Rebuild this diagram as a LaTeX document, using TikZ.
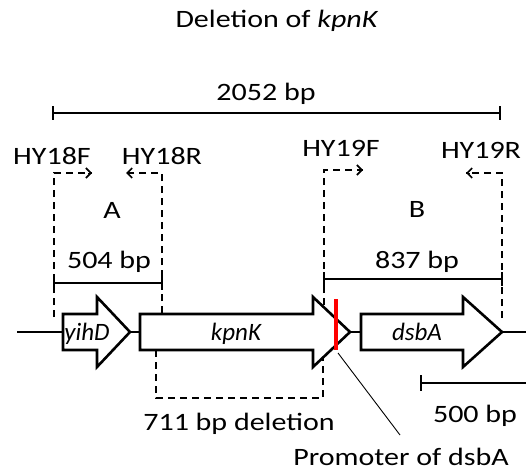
\documentclass[tikz,border=0pt]{standalone}
\usepackage{fontspec}
\usepackage{graphicx}
\setmainfont{Carlito}
\usetikzlibrary{arrows.meta}
\newcommand{\wt}[1]{\scalebox{1.2}[1]{#1}}
\tikzset{
  lbl/.style={inner sep=0pt, anchor=base, font=\fontsize{25}{28}\selectfont},
  glbl/.style={inner sep=0pt, anchor=base, font=\fontsize{25}{28}\selectfont\itshape},
  bar/.style={line width=2.2pt},
  dsh/.style={line width=1.8pt, dash pattern=on 7pt off 5pt},
  gene/.style={draw, line width=2.6pt, fill=white, line join=miter},
  bb/.style={line width=2.6pt},
  primer/.style={-{Straight Barb[length=5pt,width=10pt,line width=1.6pt]}},
}
\begin{document}
\begin{tikzpicture}[x=1pt,y=-1pt]
\useasboundingbox (0,0) rectangle (526,470);
% title
\node[lbl] (title) at (277,28) {\wt{Deletion of \textit{kpnK}}};
% 2052 bar
\coordinate (t1) at (53,113); \coordinate (t2) at (500,113);
\draw[bar] (t1) -- (t2);
\draw[bar] ([yshift=-7pt]t1) -- ([yshift=7pt]t1);
\draw[bar] ([yshift=-7pt]t2) -- ([yshift=7pt]t2);
\node[lbl] (l2052) at (266,101) {\wt{2052 bp}};
% primers labels
\node[lbl] (hy18f) at (52,165) {\wt{HY18F}};
\node[lbl] (hy18r) at (162,165) {\wt{HY18R}};
\node[lbl] (hy19f) at (341,157) {\wt{HY19F}};
\node[lbl] (hy19r) at (481,159) {\wt{HY19R}};
% box A
\coordinate (a1) at (54,317); \coordinate (a2) at (54,173); \coordinate (a3) at (92,173);
\coordinate (a4) at (126,173); \coordinate (a5) at (162,173); \coordinate (a6) at (162,313);
\draw[dsh] (a1) -- (a2) -- (a3);
\draw[dsh] (a6) -- (a5) -- (a4);
\draw[primer] ([xshift=-4pt]a3) -- (a3);
\draw[primer] ([xshift=4pt]a4) -- (a4);
\node[lbl] (A) at (112,218) {\wt{A}};
\node[lbl] (l504) at (109,268) {\wt{504 bp}};
\draw[bar] (54,283) -- (162,283);
\draw[bar] (54,276) -- (54,290);
\draw[bar] (162,276) -- (162,290);
% box B
\coordinate (b1) at (324,305); \coordinate (b2) at (324,170); \coordinate (b3) at (363,170);
\coordinate (b4) at (466,173); \coordinate (b5) at (502,173); \coordinate (b6) at (502,318);
\draw[dsh] (b1) -- (b2) -- (b3);
\draw[dsh] (b6) -- (b5) -- (b4);
\draw[primer] ([xshift=-4pt]b3) -- (b3);
\draw[primer] ([xshift=4pt]b4) -- (b4);
\node[lbl] (B) at (417,217) {\wt{B}};
\node[lbl] (l837) at (417,268) {\wt{837 bp}};
\draw[bar] (324,279) -- (502,279);
\draw[bar] (324,272) -- (324,286);
\draw[bar] (502,272) -- (502,286);
% backbone
\draw[bb] (17,332) -- (63,332);
\draw[bb] (130,332) -- (140,332);
\draw[bb] (350,332) -- (361,332);
\draw[bb] (502,332) -- (526,332);
% genes
\draw[gene] (63,314) -- (97,314) -- (97,297) -- (130,332) -- (97,367) -- (97,350) -- (63,350) -- cycle;
\draw[gene] (140,314) -- (313,314) -- (313,297) -- (350,332) -- (313,367) -- (313,350) -- (140,350) -- cycle;
\draw[gene] (361,314) -- (463,314) -- (463,297) -- (502,332) -- (463,367) -- (463,350) -- (361,350) -- cycle;
\node[glbl] (yihD) at (87,340) {yihD};
\node[glbl] (kpnK) at (236,340) {kpnK};
\node[glbl] (dsbA) at (417,340) {dsbA};
% promoter
\draw[red, line width=3.5pt] (336,299) -- (336,350);
\coordinate (p1) at (338,353);
\node[lbl] (prom) at (401,465) {\wt{Promoter of dsbA}};
\draw[line width=0.9pt] (p1) -- (400,435);
% deletion
\draw[dsh] (156,350) -- (156,398) -- (323,398) -- (323,358);
\node[lbl] (del) at (239,430) {\wt{711 bp deletion}};
% scale bar
\draw[bar] (421,383) -- (526,383);
\draw[bar] (421,375) -- (421,391);
\node[lbl] (l500) at (475,422) {\wt{500 bp}};
\end{tikzpicture}
\end{document}
